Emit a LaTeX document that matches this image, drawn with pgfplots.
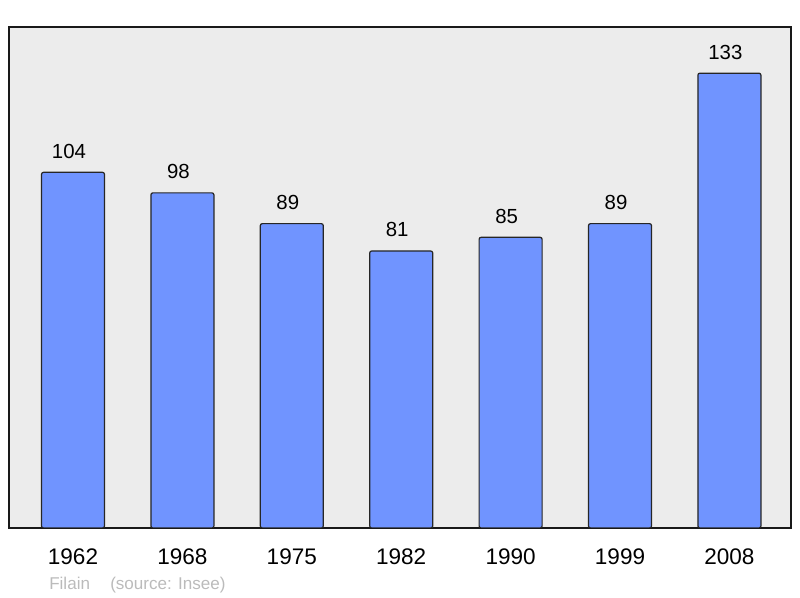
\documentclass[border=0pt]{standalone}
\usepackage{fontspec}
\setmainfont{Liberation Sans}
\usepackage{pgfplots}
\pgfplotsset{compat=1.18}
\definecolor{barblue}{RGB}{112,148,255}
\definecolor{bggray}{RGB}{236,236,236}
\definecolor{srcgray}{RGB}{187,187,187}
\begin{document}
\begin{tikzpicture}
\path[use as bounding box] (0pt,0pt) rectangle (600pt,448.5pt);
\begin{axis}[
  at={(6.75pt,52.5pt)}, anchor=south west,
  scale only axis, width=586.5pt, height=375.75pt,
  xmin=-0.585, xmax=6.563, ymin=0, ymax=146.5,
  axis background/.style={fill=bggray},
  axis line style={line width=1.5pt, black!90},
  ytick=\empty,
  xtick={0,...,6},
  xticklabels={1962,1968,1975,1982,1990,1999,2008},
  major tick length=0pt,
  xticklabel style={font=\fontsize{16.9}{19}\selectfont, anchor=base, yshift=-27.75pt},
  ybar, bar width=47.25pt,
  nodes near coords,
  every node near coord/.append style={font=\fontsize{15.3}{18}\selectfont, black, anchor=base, inner sep=0pt, yshift=10.5pt, xshift=-3pt},
  /pgf/number format/assume math mode=true,
]
\addplot[fill=barblue, draw=black!85, line width=0.9pt, rounded corners=1.5pt]
  coordinates {(0,104) (1,98) (2,89) (3,81) (4,85) (5,89) (6,133)};
\end{axis}
\node[anchor=base west, inner sep=0pt, text=srcgray, font=\fontsize{12.8}{15}\selectfont] at (36.75pt,6pt) {Filain};
\node[anchor=base west, inner sep=0pt, text=srcgray, font=\fontsize{12.8}{15}\selectfont] at (82.5pt,6pt) {(source: Insee)};
\end{tikzpicture}
\end{document}
